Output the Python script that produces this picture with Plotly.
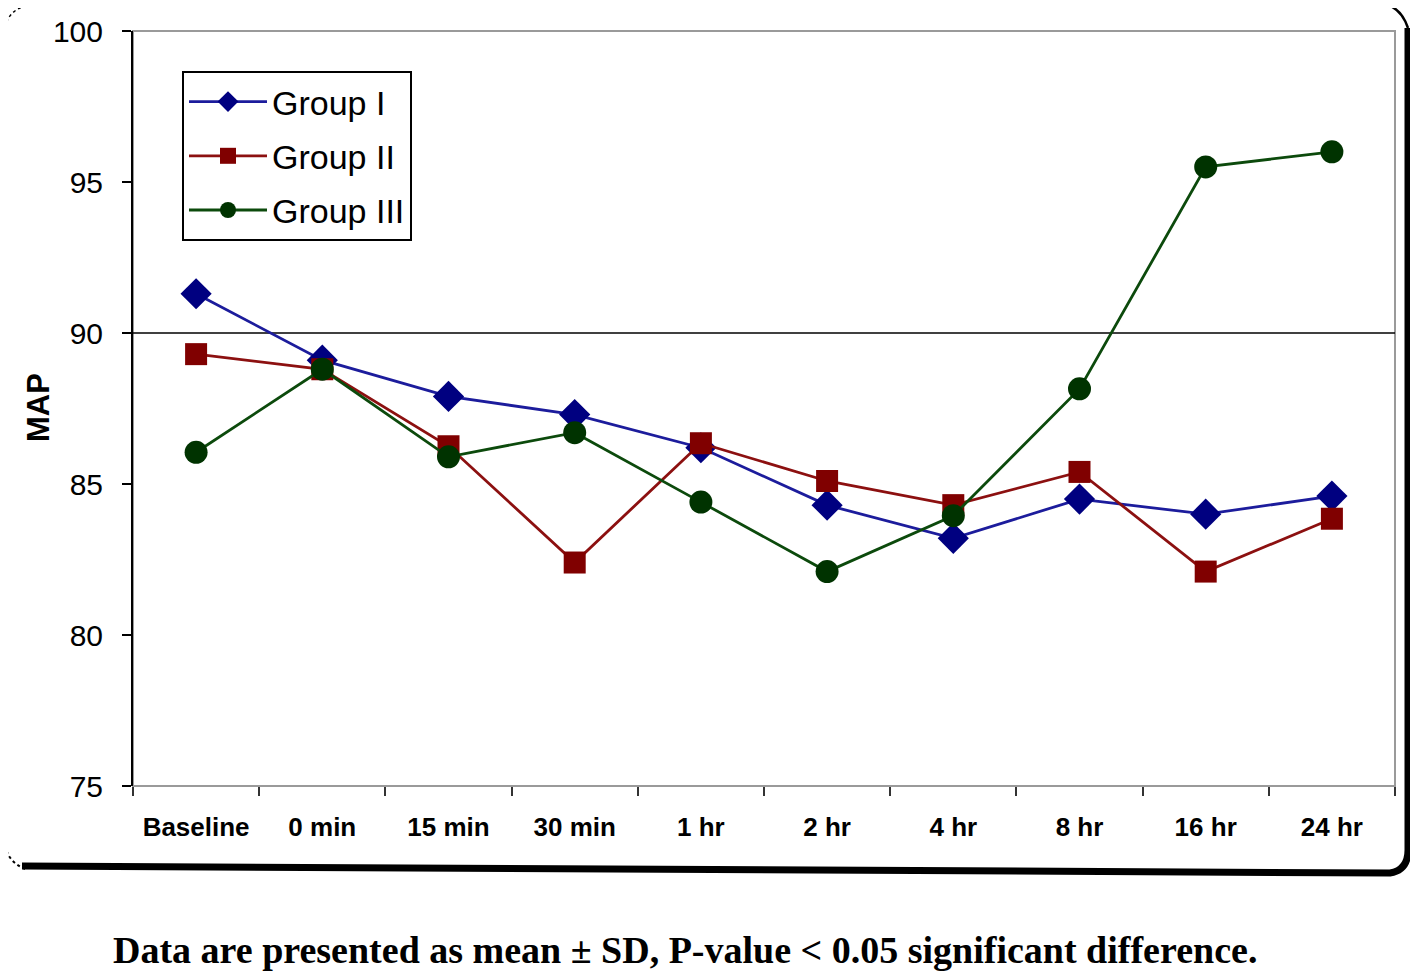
import plotly.graph_objects as go

categories = ["Baseline", "0 min", "15 min", "30 min", "1 hr", "2 hr", "4 hr", "8 hr", "16 hr", "24 hr"]
group1 = [91.3, 89.1, 87.9, 87.3, 86.2, 84.3, 83.2, 84.5, 84.0, 84.6]
group2 = [89.3, 88.8, 86.25, 82.4, 86.35, 85.1, 84.3, 85.4, 82.1, 83.85]
group3 = [86.05, 88.8, 85.9, 86.7, 84.4, 82.1, 83.95, 88.15, 95.5, 96.0]
y_ticks = [75, 80, 85, 90, 95, 100]

OFF = 8  # browser body margin
W, H = 1418 - OFF, 980 - OFF
# plot area in page pixels
L, R, T, B = 133, 1395, 31, 786

def px(x):
    return (x - L) / (R - L)

def py(y):
    return (B - y) / (B - T)

fig = go.Figure()
fig.add_trace(go.Scatter(x=categories, y=group1, name="Group I", mode="lines+markers", legendgroup="g1",
                         line=dict(color="#1c1c9c", width=2.8),
                         marker=dict(symbol="diamond", size=24, color="#000080")))
fig.add_trace(go.Scatter(x=categories, y=group2, name="Group II", mode="lines+markers", legendgroup="g2",
                         line=dict(color="#8c1010", width=2.8),
                         marker=dict(symbol="square", size=22, color="#800000")))
fig.add_trace(go.Scatter(x=categories, y=group3, name="Group III", mode="lines+markers", legendgroup="g3",
                         line=dict(color="#0c4a0c", width=2.8),
                         marker=dict(symbol="circle", size=23, color="#003300")))

shapes = [
    dict(type="rect", xref="paper", yref="paper", x0=0, x1=1, y0=0, y1=1,
         line=dict(color="#9a9a9a", width=2), layer="below"),
    dict(type="line", xref="paper", yref="y", x0=0, x1=1, y0=90, y1=90,
         line=dict(color="black", width=1.5), layer="below"),
    dict(type="line", xref="paper", yref="paper", x0=px(5), x1=px(5), y0=py(32), y1=py(838),
         line=dict(color="black", width=2)),
    dict(type="path", xref="paper", yref="paper",
         path=f"M {px(22)} {py(866)} L {px(1390)} {py(873)} Q {px(1408)} {py(870)} {px(1408)} {py(850)} L {px(1408)} {py(28)}",
         line=dict(color="black", width=7)),
    dict(type="path", xref="paper", yref="paper",
         path=f"M {px(5)} {py(845)} Q {px(8)} {py(862)} {px(25)} {py(869)}",
         line=dict(color="black", width=2, dash="dot")),
    dict(type="path", xref="paper", yref="paper",
         path=f"M {px(5)} {py(28)} Q {px(8)} {py(10)} {px(28)} {py(5)}",
         line=dict(color="black", width=1.5, dash="dot")),
    dict(type="path", xref="paper", yref="paper",
         path=f"M {px(1388)} {py(5)} Q {px(1402)} {py(10)} {px(1408)} {py(28)}",
         line=dict(color="black", width=2.5)),
]

fig.update_layout(
    width=W, height=H,
    margin=dict(l=L - OFF, r=W - (R - OFF), t=T - OFF, b=H - (B - OFF), pad=0, autoexpand=False),
    paper_bgcolor="white", plot_bgcolor="white",
    font=dict(family="Liberation Sans, Arial, sans-serif", color="black"),
    showlegend=True,
    legend=dict(x=px(182), y=py(71), xanchor="left", yanchor="top",
                bordercolor="black", borderwidth=2, bgcolor="white",
                font=dict(size=34, color="black"), itemwidth=78,
                tracegroupgap=7),
    shapes=shapes,
    annotations=[
        dict(text="<b>Data are presented as mean ± SD, P-value < 0.05 significant difference.</b>",
             xref="paper", yref="paper", x=px(685), y=py(950),
             xanchor="center", yanchor="middle", showarrow=False,
             font=dict(family="Liberation Serif, Times New Roman, serif", size=38, color="black")),
        dict(text="<b>MAP</b>", xref="paper", yref="paper", x=px(38), y=py(408),
             xanchor="center", yanchor="middle", textangle=-90, showarrow=False,
             font=dict(size=31, color="black")),
    ],
)

fig.update_xaxes(type="category", range=[-0.5, 9.5], showgrid=False, showline=False, zeroline=False,
                 automargin=False,
                 ticks="outside", tickson="boundaries", ticklen=9, tickwidth=2, tickcolor="#333333",
                 tickfont=dict(size=26, color="black", family="Liberation Sans, Arial, sans-serif", weight="bold"),
                 ticklabelstandoff=23)
fig.update_yaxes(range=[75, 100], tickvals=y_ticks, showgrid=False, zeroline=False,
                 automargin=False,
                 showline=True, linecolor="black", linewidth=2,
                 ticks="outside", ticklen=9, tickwidth=2, tickcolor="black",
                 tickfont=dict(size=30, color="black"), ticklabelstandoff=13)

fig.write_html("out.html")
